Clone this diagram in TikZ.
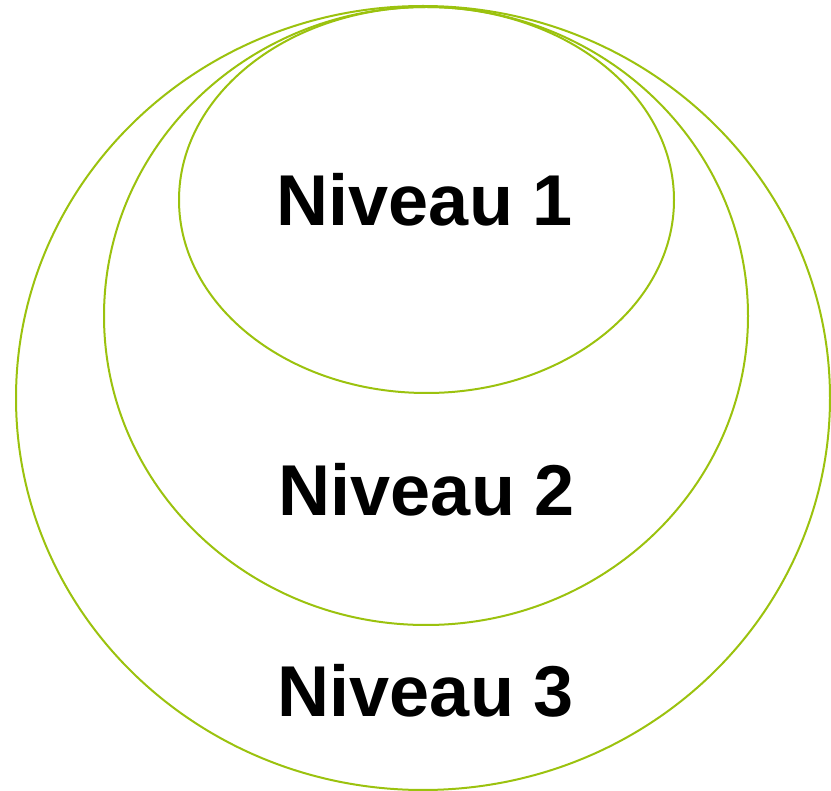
\documentclass[tikz,border=0pt]{standalone}
\usepackage{fontspec}
\setmainfont{Liberation Sans}
\definecolor{levelgreen}{HTML}{9BC20E}

\begin{document}
\begin{tikzpicture} [x=1pt, y=-1pt]
    \tikzstyle{every node} = [align=center, inner sep=0pt]
    \tikzstyle{level} = [draw=levelgreen, line width=2pt]
    \tikzstyle{label} = [font=\fontsize{72}{80}\selectfont\bfseries]
    \useasboundingbox (0,0) rectangle (831,791);
    \draw [level] (423,398) ellipse [x radius=407, y radius=392];
    \draw [level] (426,316) ellipse [x radius=322, y radius=309];
    \draw [level] (426.5,200) ellipse [x radius=247.5, y radius=193];
    \node [label] (niv1) at (425,200) {Niveau 1};
    \node [label] (niv2) at (427,490) {Niveau 2};
    \node [label] (niv3) at (426,691) {Niveau 3};
\end{tikzpicture}
\end{document}
